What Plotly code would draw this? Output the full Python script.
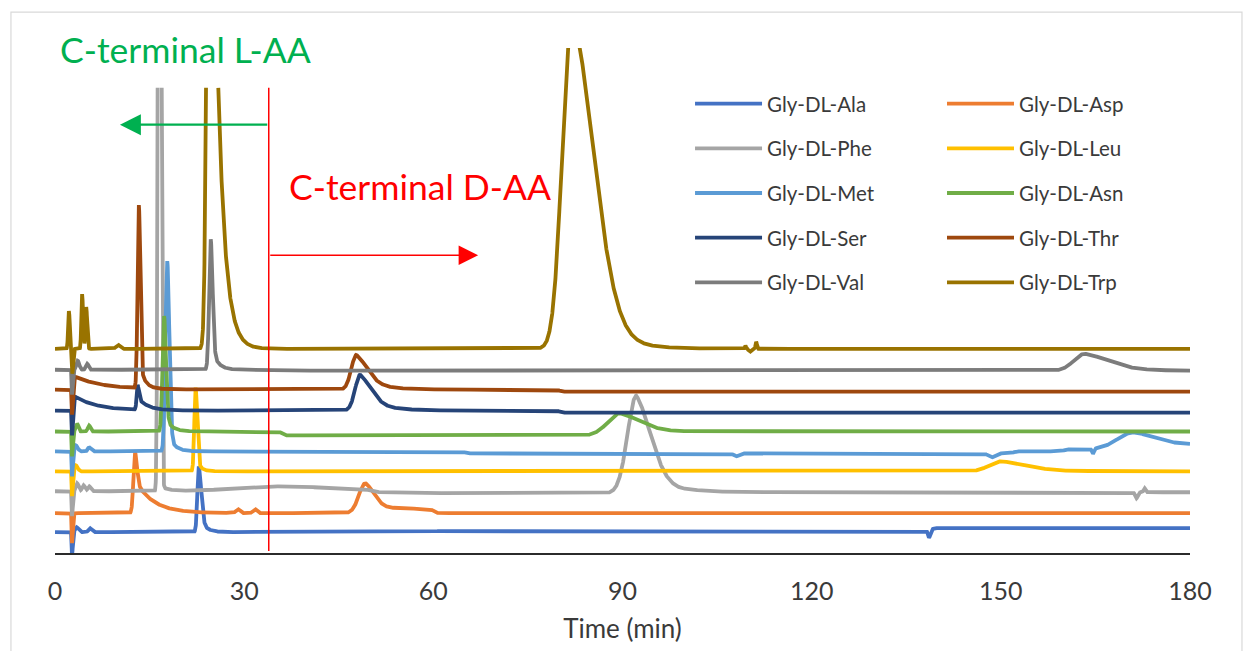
import numpy as np
import plotly.graph_objects as go

# ---------------------------------------------------------------------------
# Stacked HPLC chromatograms of Gly-DL-X dipeptides
# ---------------------------------------------------------------------------
TIME_TICKS = [0, 30, 60, 90, 120, 150, 180]

SERIES = ["Gly-DL-Ala", "Gly-DL-Asp", "Gly-DL-Phe", "Gly-DL-Leu", "Gly-DL-Met",
          "Gly-DL-Asn", "Gly-DL-Ser", "Gly-DL-Thr", "Gly-DL-Val", "Gly-DL-Trp"]

# baseline level of every stacked trace (signal units)
OFFSETS = [21, 40, 62, 82, 102, 122, 143, 164, 184, 205]

# peak tables: (retention time min, height, rise width, fall width, tail fraction, tail constant)
PEAKS_ALA = [(2.7, -23, 0.06, 0.12, 0, 1), (3.4, 5, 0.2, 0.3, 0, 1), (5.5, 4, 0.2, 0.3, 0, 1),
             (22.8, 66, 0.22, 0.4, 0.25, 0.9), (138.6, -7, 0.15, 0.2, 0, 1)]
PEAKS_ASP = [(2.7, -30, 0.06, 0.12, 0, 1), (12.7, 61, 0.25, 0.3, 0.55, 2.8),
             (29.0, 4, 0.3, 0.3, 0, 1), (31.7, 4, 0.3, 0.3, 0, 1),
             (49.2, 30, 1.0, 1.3, 0.2, 3.0)]
PEAKS_PHE = [(2.7, -25, 0.06, 0.12, 0, 1), (3.5, 8, 0.2, 0.25, 0, 1), (4.5, 6, 0.2, 0.25, 0, 1),
             (5.4, 5, 0.2, 0.25, 0, 1), (16.6, 2000, 0.19, 0.19, 0.003, 1.2),
             (34.5, 5, 6.0, 10.0, 0, 1), (92.2, 98, 1.4, 2.4, 0.35, 3.5),
             (171.5, -6, 0.2, 0.2, 0, 1), (172.8, 4, 0.15, 0.15, 0, 1)]
PEAKS_LEU = [(2.7, -25, 0.06, 0.12, 0, 1), (3.3, 6, 0.2, 0.3, 0, 1),
             (22.3, 84, 0.2, 0.25, 0.2, 0.6), (150.0, 10, 1.8, 4.0, 0.3, 6.0)]
PEAKS_MET = [(2.7, -25, 0.06, 0.12, 0, 1), (3.3, 6, 0.2, 0.3, 0, 1), (5.4, 4, 0.2, 0.3, 0, 1),
             (17.8, 191, 0.28, 0.33, 0.1, 1.0), (108.0, -3, 0.4, 0.4, 0, 1),
             (148.5, -4, 0.5, 0.5, 0, 1), (164.6, -5, 0.15, 0.15, 0, 1),
             (171.0, 17, 2.5, 3.0, 0.5, 20.0)]
PEAKS_ASN = [(2.7, -25, 0.06, 0.12, 0, 1), (3.5, 8, 0.2, 0.2, 0, 1), (5.4, 6, 0.2, 0.2, 0, 1),
             (17.3, 116, 0.25, 0.3, 0.15, 1.0), (89.2, 19, 1.8, 3.5, 0.2, 3.0)]
PEAKS_SER = [(2.7, -25, 0.06, 0.12, 0, 1), (3.2, 14, 0.15, 0.1, 1.0, 3.5),
             (13.1, 25, 0.15, 0.2, 0.5, 1.5), (48.4, 36, 0.8, 1.8, 0.45, 3.0)]
PEAKS_THR = [(2.7, -25, 0.06, 0.12, 0, 1), (3.2, 13, 0.15, 0.1, 1.0, 4.5),
             (13.3, 184, 0.2, 0.22, 0.15, 0.8), (47.8, 35, 0.8, 1.8, 0.45, 3.0)]
PEAKS_VAL = [(2.7, -25, 0.06, 0.12, 0, 1), (3.6, 9, 0.2, 0.25, 0, 1), (5.1, 6, 0.2, 0.2, 0, 1),
             (24.7, 131, 0.25, 0.3, 0.2, 0.9), (163.3, 17, 1.7, 4.0, 0.3, 5.0)]
PEAKS_TRP = [(2.2, 38, 0.12, 0.15, 0, 1), (2.75, -25, 0.06, 0.12, 0, 1),
             (4.3, 55, 0.12, 0.15, 0, 1), (4.95, 42, 0.12, 0.15, 0, 1),
             (10.0, 4, 0.3, 0.3, 0, 1), (24.6, 900, 0.414, 0.3, 0.9, 1.16),
             (81.9, 340, 1.43, 3.6, 0.2, 4.0), (109.5, 3, 0.1, 0.1, 0, 1),
             (110.2, -3, 0.2, 0.2, 0, 1), (111.2, 7, 0.1, 0.1, 0, 1)]

# baseline shifts: (time min, change)
SHIFTS_ALA = [(60, 1), (139, 3)]
SHIFTS_ASP = [(50.5, 4), (60, -4)]
SHIFTS_PHE = [(50, -2), (100, 1)]
SHIFTS_LEU = []
SHIFTS_MET = [(65, -2), (152, 2), (160, 2)]
SHIFTS_ASN = [(36, -4), (89, 4)]
SHIFTS_SER = [(80, -2)]
SHIFTS_THR = [(80, -2)]
SHIFTS_VAL = [(40, -1)]
SHIFTS_TRP = []

PEAKS = [PEAKS_ALA, PEAKS_ASP, PEAKS_PHE, PEAKS_LEU, PEAKS_MET,
         PEAKS_ASN, PEAKS_SER, PEAKS_THR, PEAKS_VAL, PEAKS_TRP]
SHIFTS = [SHIFTS_ALA, SHIFTS_ASP, SHIFTS_PHE, SHIFTS_LEU, SHIFTS_MET,
          SHIFTS_ASN, SHIFTS_SER, SHIFTS_THR, SHIFTS_VAL, SHIFTS_TRP]

COLORS = ["#4472C4", "#ED7D31", "#A5A5A5", "#FFC000", "#5B9BD5",
          "#70AD47", "#264478", "#9E480E", "#7C7C7C", "#997300"]

# detector saturation level in the early (L-form) window
SATURATION = 467
SATURATION_WINDOW = 30
BOUNDARY_T = 33.9   # L / D elution boundary (min)

t = np.linspace(0, 180, 7201)


def peak_shape(tt, t0, h, sl, sr, frac, tau):
    dt = tt - t0
    left = np.exp(-0.5 * (dt / sl) ** 2)
    right = (1 - frac) * np.exp(-0.5 * (dt / sr) ** 2) + frac * np.exp(-np.clip(dt, 0, None) / tau)
    return h * np.where(dt < 0, left, right)


def trace_signal(offset, peaks, shifts):
    y = np.full_like(t, float(offset))
    for ts, d in shifts:
        y += d * 0.5 * (1 + np.tanh((t - ts) / 0.4))
    for p in peaks:
        y += peak_shape(t, *p)
    # saturated samples: the edges stop at the ceiling, the top is left open
    above = (t < SATURATION_WINDOW) & (y > SATURATION)
    interior = above & np.roll(above, 1) & np.roll(above, -1)
    y[above] = SATURATION
    y[interior] = np.nan
    return y


fig = go.Figure()
LEFT_COL = {"Gly-DL-Ala", "Gly-DL-Phe", "Gly-DL-Met", "Gly-DL-Ser", "Gly-DL-Val"}
for i, name in enumerate(SERIES):
    fig.add_trace(go.Scatter(
        x=t, y=trace_signal(OFFSETS[i], PEAKS[i], SHIFTS[i]),
        mode="lines", name=name, connectgaps=False,
        line=dict(color=COLORS[i], width=3.8),
        legend="legend" if name in LEFT_COL else "legend2",
        legendgroup=name,
    ))

FONT = "Lato"
TXT = "#3A3A3A"

fig.add_shape(type="line", xref="x", yref="y", x0=BOUNDARY_T, x1=BOUNDARY_T, y0=2, y1=SATURATION,
              line=dict(color="#FF0000", width=1.5), layer="above")

# arrows marking the elution regions
fig.add_annotation(x=10.3, y=430, ax=BOUNDARY_T, ay=430, xref="x", yref="y", axref="x", ayref="y",
                   text="", showarrow=True, arrowhead=2, arrowsize=1.9, arrowwidth=2.2,
                   arrowcolor="#00B050")
fig.add_annotation(x=67.1, y=299, ax=BOUNDARY_T, ay=299, xref="x", yref="y", axref="x", ayref="y",
                   text="", showarrow=True, arrowhead=2, arrowsize=2.6, arrowwidth=1.5,
                   arrowcolor="#FF0000")
fig.add_annotation(x=0.4, y=505, xref="x", yref="y", text="C-terminal L-AA", showarrow=False,
                   xanchor="left", yanchor="middle",
                   font=dict(family=FONT, size=35.5, color="#00B050"))
fig.add_annotation(x=36.8, y=368, xref="x", yref="y", text="C-terminal D-AA", showarrow=False,
                   xanchor="left", yanchor="middle",
                   font=dict(family=FONT, size=35.5, color="#FF0000"))

# light frame around the chart area
fig.add_shape(type="rect", xref="paper", yref="paper",
              x0=-0.0388, x1=1.0458, y0=-0.2, y1=1.0710,
              line=dict(color="#D9D9D9", width=1.2), layer="below")

legend_style = dict(
    font=dict(family=FONT, size=20.5, color=TXT),
    bgcolor="rgba(0,0,0,0)", borderwidth=0,
    orientation="v", itemwidth=67, tracegroupgap=15,
    yanchor="top", xanchor="left",
)

fig.update_layout(
    width=1243, height=651,
    margin=dict(l=55, r=53, t=48, b=96),
    paper_bgcolor="white", plot_bgcolor="white",
    showlegend=True,
    legend=dict(x=0.5595, y=0.929, **legend_style),
    legend2=dict(x=0.7815, y=0.929, **legend_style),
    xaxis=dict(range=[0, 180], tickvals=TIME_TICKS, showgrid=False, zeroline=False,
               showline=True, linecolor="#2B2B2B", linewidth=2.2, ticks="",
               ticklabelstandoff=15,
               tickfont=dict(family=FONT, size=25, color=TXT),
               title=dict(text="Time (min)", font=dict(family=FONT, size=26, color=TXT), standoff=16)),
    yaxis=dict(range=[0, 507], showgrid=False, zeroline=False, showline=False,
               showticklabels=False, ticks=""),
)

fig.write_html("out.html")
